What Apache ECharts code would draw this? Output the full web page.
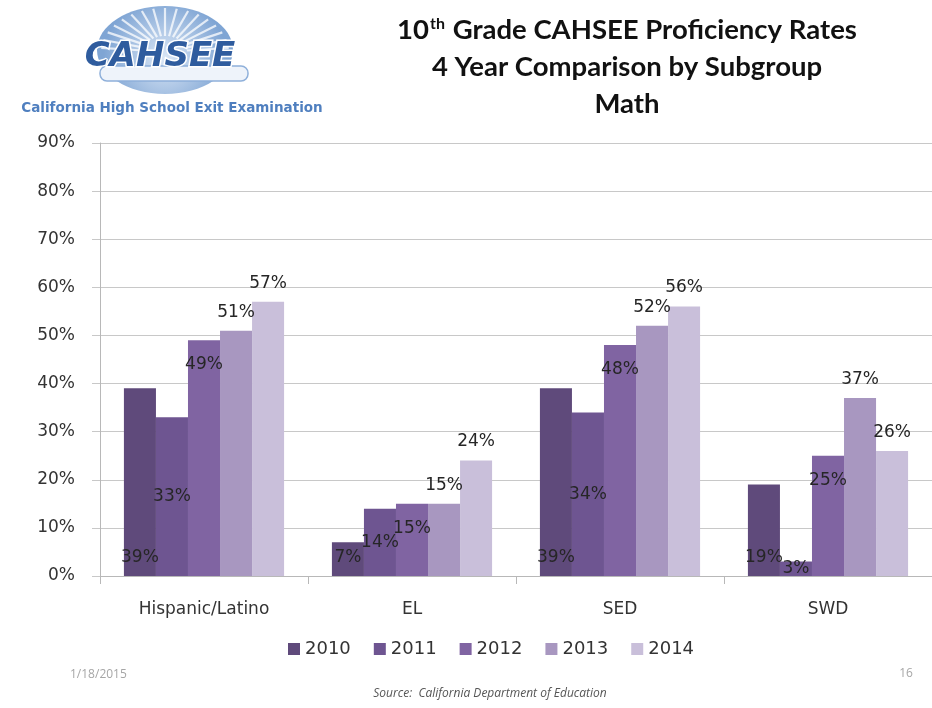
<!DOCTYPE html>
<html>
<head>
<meta charset="utf-8">
<title>10th Grade CAHSEE Proficiency Rates</title>
<script src="https://cdn.jsdelivr.net/npm/echarts@6/dist/echarts.min.js"></script>
<style>
  html, body { margin: 0; padding: 0; background: #ffffff; }
  #chart { width: 932px; height: 708px; }
</style>
</head>
<body>
<div id="chart"></div>
<script>
// Subgroups on the x axis
const categories = ['Hispanic/Latino', 'EL', 'SED', 'SWD'];

// Proficiency rate (%) per year, one value per subgroup
const years = ['2010', '2011', '2012', '2013', '2014'];
const rates2010 = [39, 7, 39, 19];
const rates2011 = [33, 14, 34, 3];
const rates2012 = [49, 15, 48, 25];
const rates2013 = [51, 15, 52, 37];
const rates2014 = [57, 24, 56, 26];

// Y axis tick values
const yTicks = [0, 10, 20, 30, 40, 50, 60, 70, 80, 90];

const seriesValues = [rates2010, rates2011, rates2012, rates2013, rates2014];
const seriesColors = ['#5f4a7b', '#6e5591', '#8064a2', '#a897c0', '#c9bfda'];
// Where each year's value label sits on its bar
const labelPlacement = [
  { position: 'insideBottom', distance: 10 },
  { position: 'inside', distance: 5 },
  { position: 'insideTop', distance: 16 },
  { position: 'top', distance: 10 },
  { position: 'top', distance: 10 }
];

const chart = echarts.init(document.getElementById('chart'), null, { renderer: 'canvas' });

const series = years.map((y, i) => ({
  name: y,
  type: 'bar',
  data: seriesValues[i],
  barGap: '0%',
  barCategoryGap: '23%',
  itemStyle: { color: seriesColors[i] },
  label: {
    show: true,
    position: labelPlacement[i].position,
    distance: labelPlacement[i].distance,
    formatter: '{c}%',
    fontFamily: 'DejaVu Sans',
    fontSize: 17,
    color: '#262626'
  },
  emphasis: { disabled: true }
}));

// Logo rays fanning out from the emblem centre
const logoRays = [];
for (let k = 0; k < 17; k++) {
  const ang = Math.PI + (k + 0.5) * Math.PI / 17;
  logoRays.push({
    type: 'line',
    shape: { x1: 165 + Math.cos(ang) * 22, y1: 52 + Math.sin(ang) * 16,
             x2: 165 + Math.cos(ang) * 64, y2: 52 + Math.sin(ang) * 44 },
    style: { stroke: 'rgba(255,255,255,0.75)', lineWidth: 2.2 },
    silent: true
  });
}

const option = {
  backgroundColor: '#ffffff',
  animation: false,
  grid: { left: 100, right: 0, top: 143, bottom: 132, containLabel: false },
  legend: {
    data: years,
    left: 283,
    top: 635,
    itemWidth: 12,
    itemHeight: 12,
    itemGap: 23,
    icon: 'rect',
    textStyle: { fontFamily: 'DejaVu Sans', fontSize: 18, color: '#333333' }
  },
  xAxis: {
    type: 'category',
    data: categories,
    axisLine: { lineStyle: { color: '#b8b8b8', width: 1 } },
    axisTick: { show: true, length: 8, lineStyle: { color: '#b8b8b8' } },
    axisLabel: { fontFamily: 'DejaVu Sans', fontSize: 17, color: '#333333', margin: 25 }
  },
  yAxis: {
    type: 'value',
    min: yTicks[0],
    max: yTicks[yTicks.length - 1],
    interval: 10,
    axisLine: { show: true, lineStyle: { color: '#b8b8b8' } },
    axisTick: { show: true, length: 8, lineStyle: { color: '#c8c8c8' } },
    splitLine: { lineStyle: { color: '#c8c8c8', width: 1 } },
    axisLabel: { formatter: '{value}%', fontFamily: 'DejaVu Sans', fontSize: 17, color: '#333333', margin: 25 }
  },
  series: series,
  graphic: [
    // emblem
    {
      type: 'ellipse',
      shape: { cx: 165, cy: 50, rx: 68, ry: 44 },
      style: {
        fill: {
          type: 'radial', x: 0.5, y: 0.6, r: 0.7,
          colorStops: [{ offset: 0, color: '#dbe7f6' }, { offset: 1, color: '#7fa5d4' }]
        }
      },
      silent: true
    },
    ...logoRays,
    {
      type: 'rect',
      shape: { x: 100, y: 66, width: 148, height: 15, r: 7 },
      style: { fill: '#eef3fa', stroke: '#8fb0da', lineWidth: 1.5 },
      silent: true
    },
    {
      type: 'text',
      x: 160, y: 57,
      style: {
        text: 'CAHSEE',
        textAlign: 'center',
        textVerticalAlign: 'middle',
        font: 'italic bold 34px "DejaVu Sans"',
        fill: '#2f5c9e',
        stroke: '#ffffff',
        lineWidth: 3
      },
      silent: true
    },
    {
      type: 'text',
      x: 172, y: 108,
      style: {
        text: 'California High School Exit Examination',
        textAlign: 'center',
        textVerticalAlign: 'middle',
        font: 'bold 13.5px "DejaVu Sans"',
        fill: '#4f7fbf'
      },
      silent: true
    },
    // title
    {
      type: 'text',
      x: 627, y: 12,
      style: {
        text: '{b|10}{s|th}{b| Grade CAHSEE Proficiency Rates}\n{b|4 Year Comparison by Subgroup}\n{b|Math}',
        textAlign: 'center',
        rich: {
          b: { font: 'bold 27.5px Lato', fill: '#111111', lineHeight: 37 },
          s: { font: 'bold 16px Lato', fill: '#111111', lineHeight: 37, padding: [0, 1, 14, 1] }
        }
      },
      silent: true
    },
    // footer
    {
      type: 'text',
      x: 70, y: 675,
      style: { text: '1/18/2015', textVerticalAlign: 'middle', font: '12px "Open Sans"', fill: '#a6a6a6' },
      silent: true
    },
    {
      type: 'text',
      x: 906, y: 674,
      style: { text: '16', textAlign: 'center', textVerticalAlign: 'middle', font: '12px "Open Sans"', fill: '#a6a6a6' },
      silent: true
    },
    {
      type: 'text',
      x: 490, y: 694,
      style: { text: 'Source:  California Department of Education', textAlign: 'center', textVerticalAlign: 'middle', font: 'italic 12px "Open Sans"', fill: '#555555' },
      silent: true
    }
  ]
};

chart.setOption(option);
</script>
</body>
</html>
